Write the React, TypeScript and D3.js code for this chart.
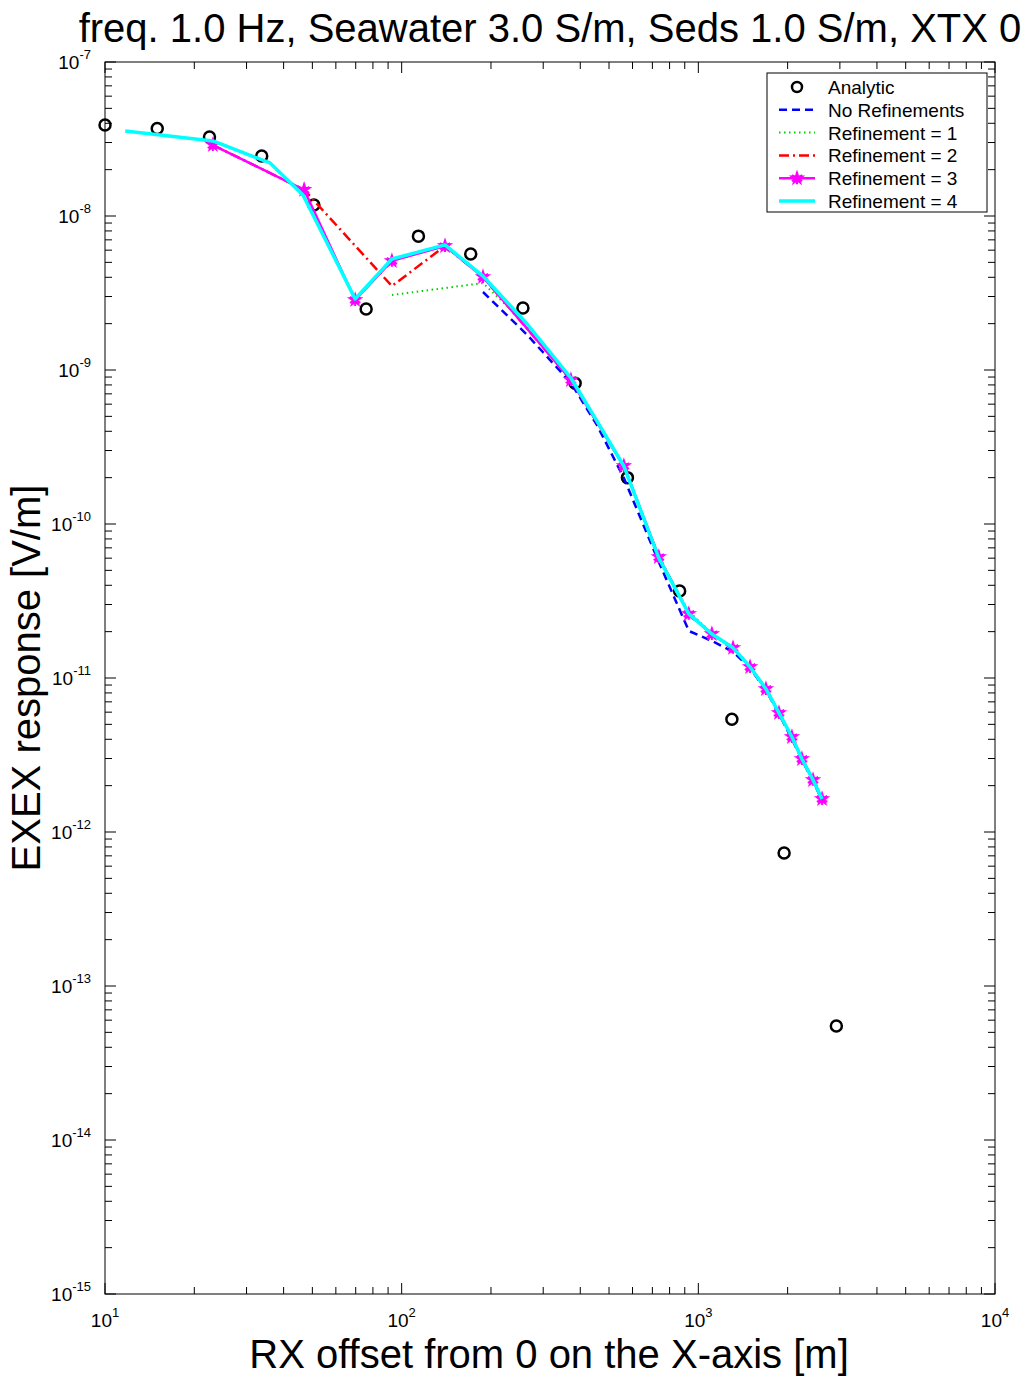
import React from "react"
import * as d3 from "d3"

const width = 1029
const height = 1385
const margin = { top: 62, right: 34, bottom: 91, left: 105 }
const innerWidth = width - margin.left - margin.right
const innerHeight = height - margin.top - margin.bottom

const font = "'Liberation Sans', Arial, sans-serif"

// analytic solution (circles)
const analyticX = [10, 15, 22.5, 33.75, 50.6, 75.9, 113.9, 170.9, 256.3, 384.4, 576.7, 865, 1297.5, 1946, 2919]
const analyticY = [3.9e-8, 3.7e-8, 3.26e-8, 2.45e-8, 1.18e-8, 2.49e-9, 7.4e-9, 5.67e-9, 2.53e-9, 8.2e-10, 2.0e-10, 3.67e-11, 5.4e-12, 7.3e-13, 5.5e-14]

// no refinements
const noRefX = [188, 265, 372, 455, 561, 736, 929, 1111, 1309, 1494, 1690, 1870, 2068, 2235, 2436, 2613]
const noRefY = [3.21e-9, 1.69e-9, 8.24e-10, 4.4e-10, 1.99e-10, 5.66e-11, 2.02e-11, 1.74e-11, 1.48e-11, 1.16e-11, 8.35e-12, 5.83e-12, 4.02e-12, 2.94e-12, 2.14e-12, 1.61e-12]

// refinement = 1
const ref1X = [92.7, 188, 265, 372, 455, 561, 736, 929, 1111, 1309, 1494, 1690, 1870, 2068, 2235, 2436, 2613]
const ref1Y = [3.07e-9, 3.67e-9, 1.95e-9, 8.7e-10, 4.7e-10, 2.35e-10, 6.0e-11, 2.7e-11, 1.95e-11, 1.58e-11, 1.19e-11, 8.5e-12, 5.95e-12, 4.15e-12, 2.99e-12, 2.19e-12, 1.65e-12]

// refinement = 2
const ref2X = [23.1, 46.9, 92.7, 140, 188, 372, 561, 736, 929, 1111, 1309, 1494, 1690, 1870, 2068, 2235, 2436, 2613]
const ref2Y = [2.89e-8, 1.48e-8, 3.51e-9, 6.38e-9, 4.02e-9, 8.61e-10, 2.38e-10, 6.1e-11, 2.61e-11, 1.93e-11, 1.57e-11, 1.18e-11, 8.49e-12, 5.93e-12, 4.14e-12, 2.98e-12, 2.18e-12, 1.64e-12]

// refinement = 3
const ref3X = [23.1, 46.9, 69.7, 92.7, 140, 188, 372, 561, 736, 929, 1111, 1309, 1494, 1690, 1870, 2068, 2235, 2436, 2613]
const ref3Y = [2.89e-8, 1.48e-8, 2.85e-9, 5.11e-9, 6.38e-9, 4.02e-9, 8.61e-10, 2.38e-10, 6.1e-11, 2.61e-11, 1.93e-11, 1.57e-11, 1.18e-11, 8.49e-12, 5.93e-12, 4.14e-12, 2.98e-12, 2.18e-12, 1.64e-12]

// refinement = 4
const ref4X = [11.7, 23.1, 36.0, 46.5, 69.7, 92.7, 140, 188, 265, 372, 455, 561, 736, 929, 1111, 1309, 1494, 1690, 1870, 2068, 2235, 2436, 2613]
const ref4Y = [3.56e-8, 3.07e-8, 2.21e-8, 1.37e-8, 2.89e-9, 5.26e-9, 6.49e-9, 4.07e-9, 1.99e-9, 8.87e-10, 4.67e-10, 2.38e-10, 6.01e-11, 2.61e-11, 1.93e-11, 1.57e-11, 1.18e-11, 8.49e-12, 5.93e-12, 4.14e-12, 2.98e-12, 2.18e-12, 1.64e-12]

const xTickExps = [1, 2, 3, 4]
const yTickExps = [-7, -8, -9, -10, -11, -12, -13, -14, -15]

const title = "freq. 1.0 Hz, Seawater 3.0 S/m, Seds 1.0 S/m, XTX 0"
const xLabel = "RX offset from 0 on the X-axis [m]"
const yLabel = "EXEX response [V/m]"
const legendLabels = ["Analytic", "No Refinements", "Refinement = 1", "Refinement = 2", "Refinement = 3", "Refinement = 4"]

const series = [
  { xs: noRefX, ys: noRefY, color: "#0000ff", width: 2.5, dash: "8,5" },
  { xs: ref1X, ys: ref1Y, color: "#00d000", width: 2, dash: "1.5,3.5" },
  { xs: ref2X, ys: ref2Y, color: "#ff0000", width: 2.5, dash: "10,4,2,4" },
  { xs: ref3X, ys: ref3Y, color: "#ff00ff", width: 2.5, dash: null, marker: true },
  { xs: ref4X, ys: ref4Y, color: "#00ffff", width: 3.5, dash: null }
]

function App() {
  const xScale = d3.scaleLog().domain([10, 10000]).range([0, innerWidth])
  const yScale = d3.scaleLog().domain([1e-15, 1e-7]).range([innerHeight, 0])

  const line = d3.line<[number, number]>()
    .x(d => xScale(d[0]))
    .y(d => yScale(d[1]))

  const xMinor: number[] = []
  for (let e = 1; e < 4; e++) for (let k = 2; k <= 9; k++) xMinor.push(k * Math.pow(10, e))
  const yMinor: number[] = []
  for (let e = -15; e < -7; e++) for (let k = 2; k <= 9; k++) yMinor.push(k * Math.pow(10, e))

  const majorLen = 11
  const minorLen = 7

  const starPath = d3.symbol(d3.symbolStar, 85)() as string
  const astPath = d3.symbol(d3.symbolAsterisk, 100)() as string

  const legendY0 = 87
  const legendStep = 22.8

  const marker = (x: number, y: number, key: string | number) => (
    <g key={key} transform={`translate(${x}, ${y})`}>
      <path d={starPath} fill="#ff00ff" />
      <path d={astPath} fill="none" stroke="#ff00ff" strokeWidth={2} />
    </g>
  )

  return (
    <svg width={width} height={height} style={{ position: "absolute", left: 0, top: 0, background: "white" }} fontFamily={font}>
      <rect width={width} height={height} fill="white" />
      <text x={550} y={42} textAnchor="middle" fontSize={40}>{title}</text>
      <g transform={`translate(${margin.left}, ${margin.top})`}>
        <rect width={innerWidth} height={innerHeight} fill="white" stroke="black" strokeWidth={1} />

        {/* ticks */}
        {xMinor.map(v => (
          <g key={"xm" + v}>
            <line x1={xScale(v)} x2={xScale(v)} y1={innerHeight} y2={innerHeight - minorLen} stroke="black" />
            <line x1={xScale(v)} x2={xScale(v)} y1={0} y2={minorLen} stroke="black" />
          </g>
        ))}
        {xTickExps.map(e => (
          <g key={"xM" + e}>
            <line x1={xScale(Math.pow(10, e))} x2={xScale(Math.pow(10, e))} y1={innerHeight} y2={innerHeight - majorLen} stroke="black" />
            <line x1={xScale(Math.pow(10, e))} x2={xScale(Math.pow(10, e))} y1={0} y2={majorLen} stroke="black" />
            <text x={xScale(Math.pow(10, e))} y={innerHeight + 33} textAnchor="middle" fontSize={19}>
              10<tspan dy={-10} fontSize={13}>{e}</tspan>
            </text>
          </g>
        ))}
        {yMinor.map(v => (
          <g key={"ym" + v}>
            <line x1={0} x2={minorLen} y1={yScale(v)} y2={yScale(v)} stroke="black" />
            <line x1={innerWidth} x2={innerWidth - minorLen} y1={yScale(v)} y2={yScale(v)} stroke="black" />
          </g>
        ))}
        {yTickExps.map(e => (
          <g key={"yM" + e}>
            <line x1={0} x2={majorLen} y1={yScale(Math.pow(10, e))} y2={yScale(Math.pow(10, e))} stroke="black" />
            <line x1={innerWidth} x2={innerWidth - majorLen} y1={yScale(Math.pow(10, e))} y2={yScale(Math.pow(10, e))} stroke="black" />
            <text x={-14} y={yScale(Math.pow(10, e)) + 7} textAnchor="end" fontSize={19}>
              10<tspan dy={-10} fontSize={13}>{e}</tspan>
            </text>
          </g>
        ))}

        {/* analytic circles */}
        {analyticX.map((x, i) => (
          <circle key={"a" + i} cx={xScale(x)} cy={yScale(analyticY[i])} r={5.5} fill="none" stroke="black" strokeWidth={2.5} />
        ))}

        {/* model curves */}
        {series.map((s, si) => {
          const pts = s.xs.map((x, i) => [x, s.ys[i]] as [number, number])
          return (
            <g key={"s" + si}>
              <path d={line(pts) as string} fill="none" stroke={s.color} strokeWidth={s.width}
                strokeDasharray={s.dash || undefined} strokeLinejoin="round" />
              {s.marker && pts.map((p, i) => marker(xScale(p[0]), yScale(p[1]), i))}
            </g>
          )
        })}
      </g>

      {/* legend */}
      <g>
        <rect x={767} y={73} width={220} height={139} fill="white" stroke="black" strokeWidth={1} />
        {legendLabels.map((lab, i) => {
          const y = legendY0 + i * legendStep
          return (
            <g key={"l" + i}>
              {i === 0 ? (
                <circle cx={797} cy={y} r={5} fill="none" stroke="black" strokeWidth={2.5} />
              ) : (
                <line x1={779} x2={815} y1={y} y2={y} stroke={series[i - 1].color} strokeWidth={series[i - 1].width}
                  strokeDasharray={series[i - 1].dash || undefined} />
              )}
              {i === 4 && marker(797, y, "lm")}
              <text x={828} y={y + 7} fontSize={19}>{lab}</text>
            </g>
          )
        })}
      </g>

      <text x={549} y={1368} textAnchor="middle" fontSize={40}>{xLabel}</text>
      <text transform={`translate(40, ${678}) rotate(-90)`} textAnchor="middle" fontSize={40}>{yLabel}</text>
    </svg>
  )
}

export default App
